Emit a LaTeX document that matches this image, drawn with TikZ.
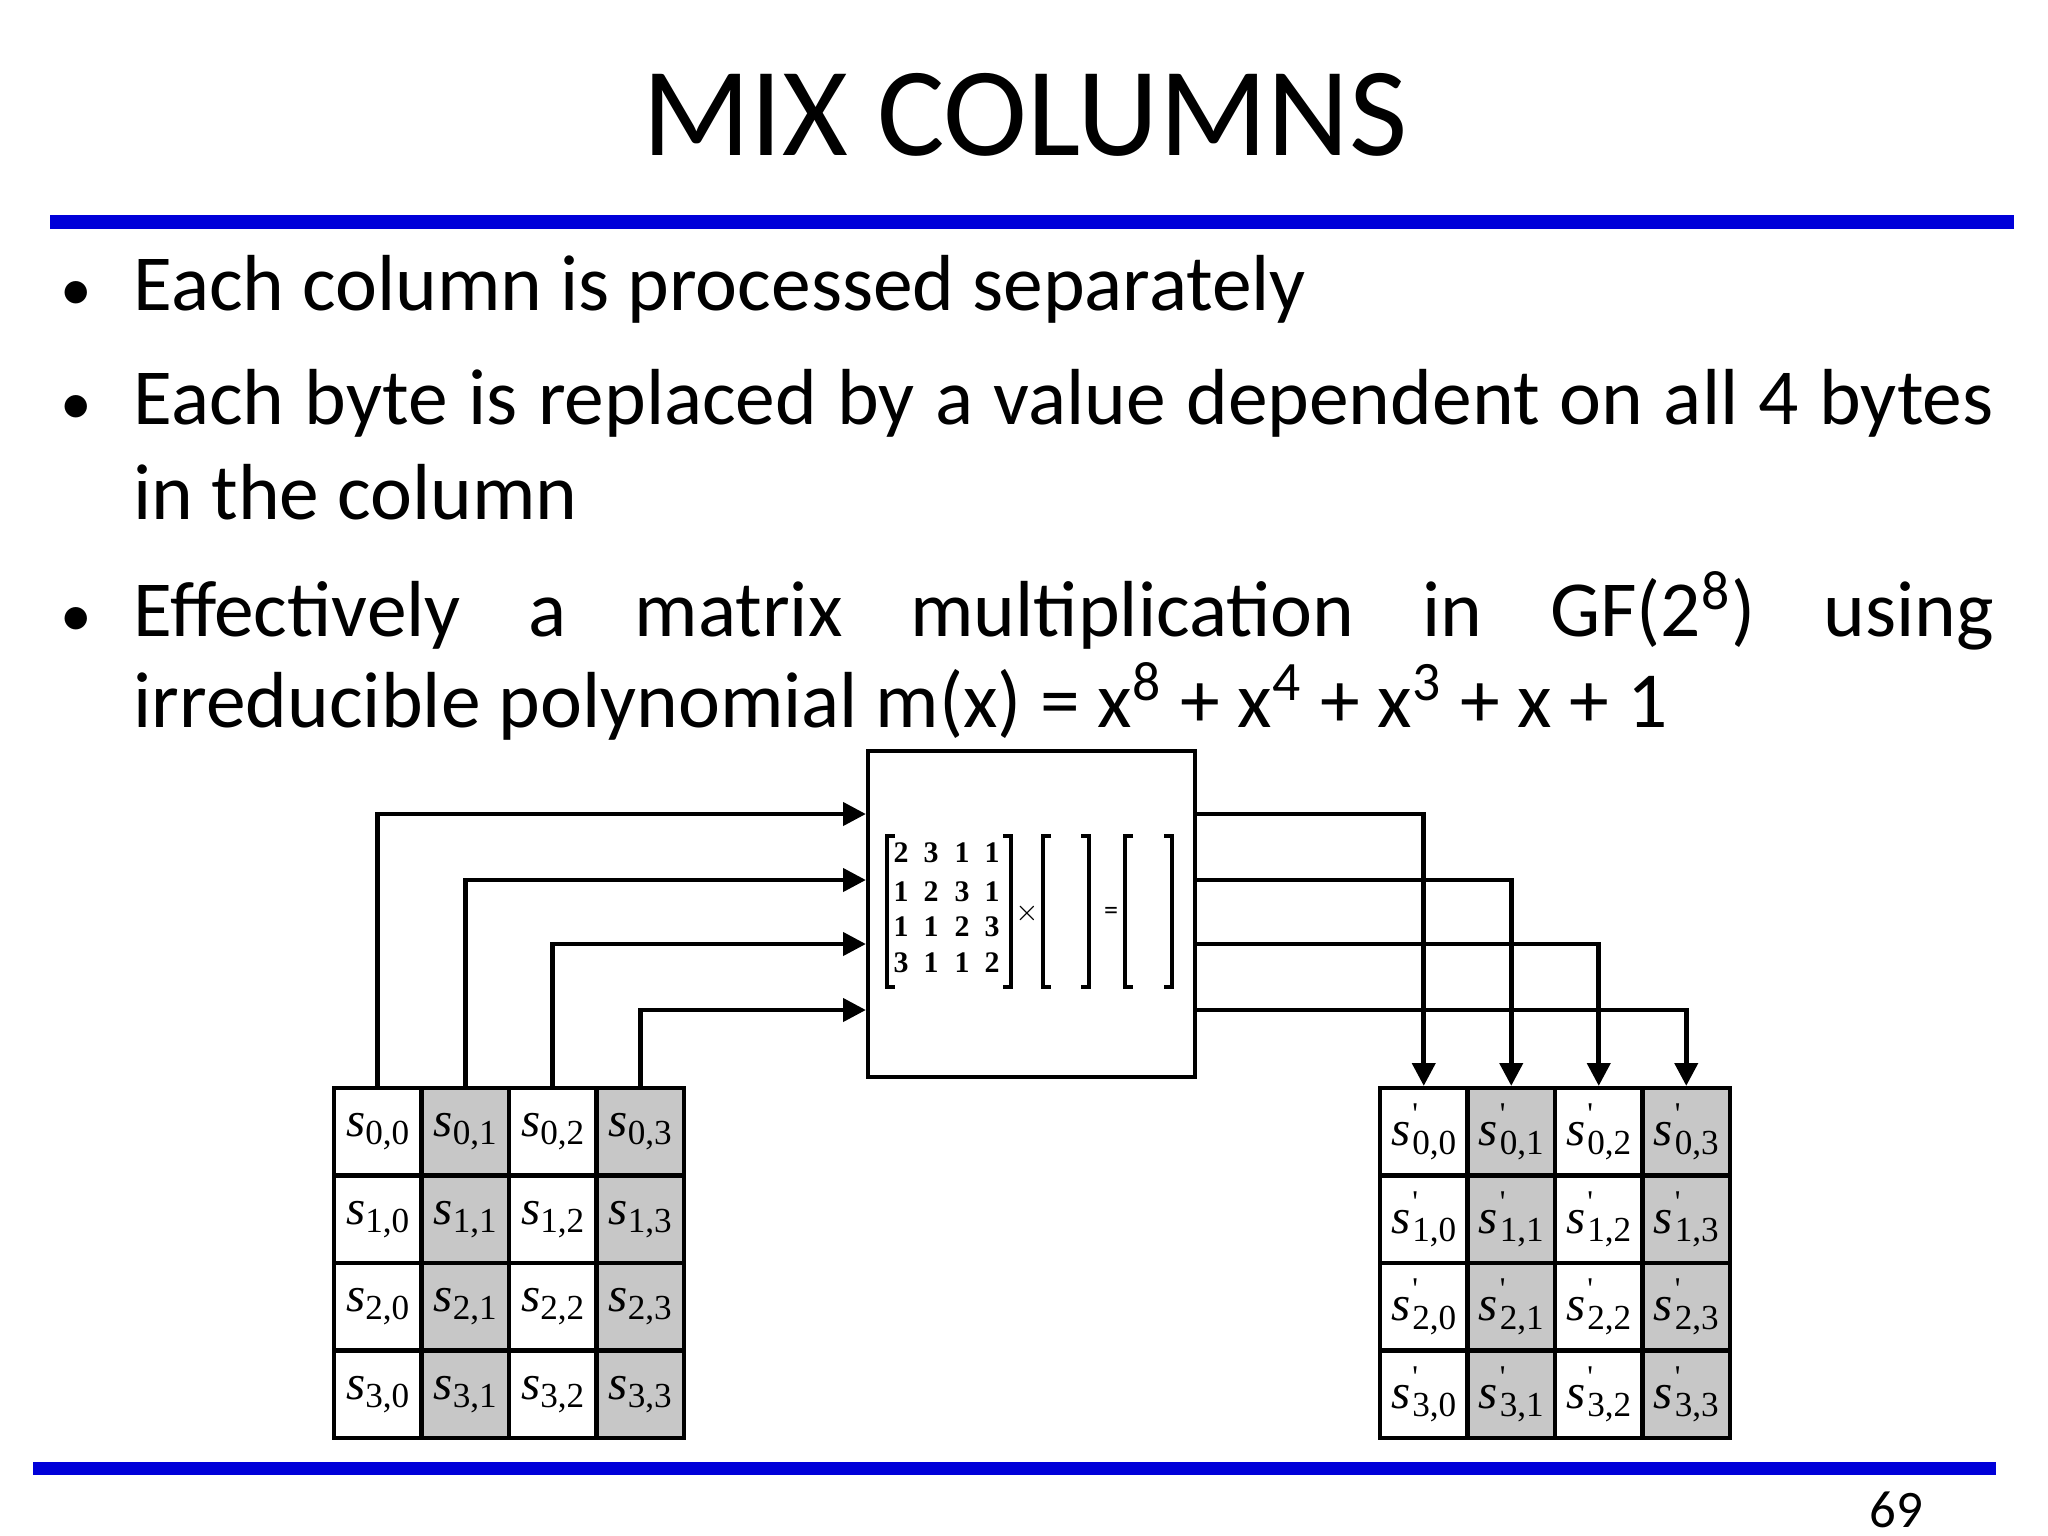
\documentclass[tikz,border=0pt]{standalone}
\usepackage{fontspec}
\setmainfont{Carlito}
\newfontfamily\serifnum{Liberation Serif}
\usetikzlibrary{arrows.meta}
\newcommand{\cs}[2]{{\serifnum\itshape s}\raisebox{-0.35ex}{\serifnum\fontsize{10}{11}\selectfont #1,#2}}
\newcommand{\csp}[2]{{\serifnum\itshape s}\kern0.04em\raisebox{0.9ex}{\serifnum\fontsize{9}{9}\selectfont '}\kern-0.12em\raisebox{-0.35ex}{\serifnum\fontsize{10}{11}\selectfont #1,#2}}
\begin{document}
\begin{tikzpicture}[x=0.01cm,y=-0.01cm,
  bul/.style={anchor=base west,inner sep=0,font=\fontsize{22.6}{27}\selectfont},
  cell/.style={draw,line width=1.2pt,minimum size=87.5*0.01cm,inner sep=0,font=\fontsize{14}{16}\selectfont},
  shade/.style={fill=black!22},
  arr/.style={line width=1.3pt,-{Triangle[length=6.5pt,width=6.5pt]}},
  num/.style={inner sep=0,font=\serifnum\bfseries\fontsize{8.5}{9}\selectfont},
  brk/.style={line width=1.1pt}]
\useasboundingbox (0,0) rectangle (2048,1536);
\node (title) at (1025,115) {\fontsize{36}{44}\selectfont MIX COLUMNS};
\fill[blue!85!black] (50,215) rectangle (2014,229);
\fill[blue!85!black] (33,1462) rectangle (1996,1475);
\node[inner sep=0] (pg) at (1896,1510) {\fontsize{15}{18}\selectfont 69};
\foreach \y in {310,424,636} \node[bul] at (60,\y) {\fontsize{18}{27}\selectfont\textbullet};
\node[bul] (b1) at (133,310) {Each column is processed separately};
\node[bul] (b2) at (133,424) {\makebox[18.59cm][s]{Each byte is replaced by a value dependent on all 4 bytes}};
\node[bul] (b2b) at (133,519) {in the column};
\node[bul] (b3) at (133,636) {\makebox[18.59cm][s]{Effectively a matrix multiplication in GF(2\textsuperscript{8}) using}};
\node[bul] (b3b) at (133,727) {irreducible polynomial m(x) = x\textsuperscript{8} + x\textsuperscript{4} + x\textsuperscript{3} + x + 1};
% box
\node[draw,line width=1.2pt,minimum width=327*0.01cm,minimum height=326*0.01cm,inner sep=0,fill=white] (box) at (1031.5,914) {};
% matrix entries
\foreach \r/\yy in {0/853,1/892,2/927,3/963}{
  \foreach \c/\xx in {0/901,1/931,2/962,3/992}{
    \pgfmathtruncatemacro{\v}{int(mod(\c-\r+4,4))}
    \ifnum\v=0 \def\t{2}\fi \ifnum\v=1 \def\t{3}\fi \ifnum\v=2 \def\t{1}\fi \ifnum\v=3 \def\t{1}\fi
    \node[num] (m\r\c) at (\xx,\yy) {\t};
  }}
\draw[brk] (895,836) -- (887,836) -- (887,987) -- (895,987);
\draw[brk] (1003,836) -- (1011,836) -- (1011,987) -- (1003,987);
\node[inner sep=0,font=\fontsize{8}{9}\selectfont] (times) at (1027,913) {$\times$};
\draw[brk] (1051,836) -- (1043,836) -- (1043,987) -- (1051,987);
\draw[brk] (1081,836) -- (1089,836) -- (1089,987) -- (1081,987);
\node[inner sep=0,font=\fontsize{8}{9}\selectfont] (eq) at (1111,913) {=};
\draw[brk] (1133,836) -- (1125,836) -- (1125,987) -- (1133,987);
\draw[brk] (1164,836) -- (1172,836) -- (1172,987) -- (1164,987);
% grids
\foreach \r in {0,1,2,3}{
  \foreach \c in {0,1,2,3}{
    \pgfmathsetmacro{\xl}{334+43.75+87.5*\c}
    \pgfmathsetmacro{\xr}{1380+43.75+87.5*\c}
    \pgfmathsetmacro{\yc}{1088+43.75+87.5*\r}
    \ifodd\c
      \node[cell,shade] (L\r\c) at (\xl,\yc) {\cs{\r}{\c}};
      \node[cell,shade] (R\r\c) at (\xr,\yc) {\csp{\r}{\c}};
    \else
      \node[cell] (L\r\c) at (\xl,\yc) {\cs{\r}{\c}};
      \node[cell] (R\r\c) at (\xr,\yc) {\csp{\r}{\c}};
    \fi
  }}
\foreach \c/\yy in {0/814,1/880,2/944,3/1010}{
  \coordinate (in\c) at (box.west |- 0,\yy);
  \coordinate (out\c) at (box.east |- 0,\yy);
  \draw[arr] (L0\c.north) |- (in\c);
  \draw[arr] (out\c) -| (R0\c.north);
}
\end{tikzpicture}
\end{document}
